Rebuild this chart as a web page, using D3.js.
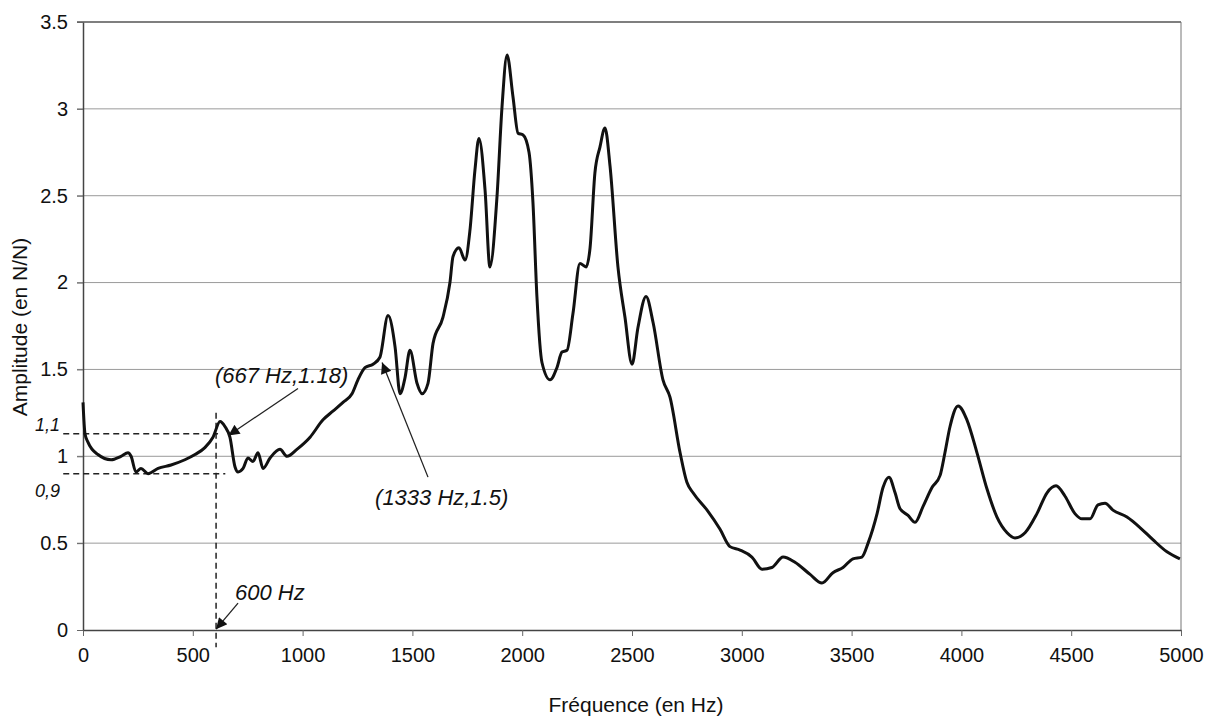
<!DOCTYPE html>
<html>
<head>
<meta charset="utf-8">
<script src="https://cdn.jsdelivr.net/npm/d3@7"></script>
<style>
    body { margin: 0; background: #fff; }
    text { font-family: "Liberation Sans", Arial, sans-serif; fill: #111; }
    .note { font-style: italic; }
</style>
</head>
<body>
<svg width="1219" height="718"></svg>
<script>
// Frequency (Hz) and amplitude (N/N)
var freqs = [0, 9, 23, 68, 128, 173, 205, 219, 241, 264, 296, 342, 401, 464, 510, 555, 592, 624, 647, 669,
    692, 706, 729, 751, 774, 797, 820, 852, 897, 929, 974, 1034, 1093, 1138, 1184, 1225, 1252, 1284, 1321, 1352,
    1389, 1421, 1444, 1466, 1489, 1521, 1544, 1571, 1594, 1639, 1671, 1685, 1712, 1740, 1762, 1785, 1803, 1831, 1853, 1885,
    1908, 1931, 1958, 1981, 2004, 2031, 2049, 2067, 2090, 2127, 2158, 2181, 2204, 2231, 2263, 2291, 2309, 2331, 2354, 2377,
    2400, 2436, 2468, 2500, 2527, 2564, 2596, 2641, 2673, 2719, 2750, 2778, 2842, 2901, 2946, 2992, 3046, 3092, 3137, 3188,
    3242, 3311, 3365, 3415, 3461, 3506, 3547, 3575, 3616, 3643, 3670, 3698, 3720, 3757, 3789, 3825, 3866, 3903, 3925, 3948,
    3985, 4025, 4071, 4117, 4162, 4208, 4244, 4290, 4344, 4390, 4431, 4472, 4517, 4549, 4586, 4622, 4654, 4690, 4754, 4813,
    4872, 4936, 4995];
var amps = [1.31, 1.13, 1.08, 1.01, 0.98, 1.00, 1.02, 1.00, 0.91, 0.93, 0.90, 0.93, 0.95, 0.98, 1.01, 1.05, 1.11, 1.20, 1.17, 1.11,
    0.94, 0.91, 0.93, 0.99, 0.97, 1.02, 0.93, 0.99, 1.04, 1.00, 1.04, 1.11, 1.21, 1.26, 1.31, 1.36, 1.44, 1.51, 1.53, 1.57,
    1.81, 1.63, 1.36, 1.45, 1.61, 1.42, 1.36, 1.42, 1.65, 1.80, 2.00, 2.15, 2.20, 2.13, 2.30, 2.65, 2.83, 2.53, 2.09, 2.49,
    3.01, 3.31, 3.07, 2.86, 2.85, 2.75, 2.46, 1.92, 1.54, 1.44, 1.51, 1.60, 1.61, 1.82, 2.11, 2.09, 2.20, 2.63, 2.78, 2.89,
    2.67, 2.09, 1.80, 1.53, 1.74, 1.92, 1.77, 1.44, 1.34, 1.02, 0.85, 0.79, 0.69, 0.58, 0.48, 0.46, 0.42, 0.35, 0.36, 0.42,
    0.39, 0.32, 0.27, 0.33, 0.36, 0.41, 0.42, 0.50, 0.67, 0.82, 0.88, 0.79, 0.70, 0.66, 0.62, 0.71, 0.82, 0.89, 1.02, 1.17,
    1.29, 1.21, 1.02, 0.81, 0.65, 0.56, 0.53, 0.56, 0.67, 0.79, 0.83, 0.77, 0.67, 0.64, 0.64, 0.72, 0.73, 0.69, 0.65, 0.59,
    0.52, 0.45, 0.41];

var xTicks = [0, 500, 1000, 1500, 2000, 2500, 3000, 3500, 4000, 4500, 5000];
var yTicks = [0, 0.5, 1, 1.5, 2, 2.5, 3, 3.5];

// dashed guide lines: [f1, a1, f2, a2]
var guides = [
    [-90, 1.13, 615, 1.13],
    [-90, 0.9, 648, 0.9],
    [606, 1.25, 606, -0.1]
];
// arrows: [tailF, tailA, tipF, tipA]
var arrows = [
    [979, 1.39, 662, 1.12],
    [1571, 0.88, 1362, 1.54],
    [706, 0.155, 606, 0.005]
];
// notes: [text, f, a, anchor, size]
var notes = [
    ["(667 Hz,1.18)", 601, 1.42, "start", 22],
    ["(1333 Hz,1.5)", 1330, 0.72, "start", 22],
    ["600 Hz", 692, 0.173, "start", 22],
    ["1,1", -105, 1.146, "end", 18],
    ["0,9", -105, 0.766, "end", 18]
];

var svg = d3.select('svg');
var svgWidth = +svg.attr('width');
var svgHeight = +svg.attr('height');

var padding = {t: 22, r: 38, b: 88, l: 83};
var chartWidth = svgWidth - padding.l - padding.r;
var chartHeight = svgHeight - padding.t - padding.b;

var chartG = svg.append('g')
    .attr('transform', 'translate(' + [padding.l, padding.t] + ')');

var xScale = d3.scaleLinear().domain([0, 5000]).range([0, chartWidth]);
var yScale = d3.scaleLinear().domain([0, 3.5]).range([chartHeight, 0]);

// horizontal gridlines
chartG.selectAll('.grid')
    .data(yTicks.slice(1, -1))
    .enter().append('line')
    .attr('class', 'grid')
    .attr('x1', -6).attr('x2', chartWidth)
    .attr('y1', function(d) { return yScale(d); })
    .attr('y2', function(d) { return yScale(d); })
    .attr('stroke', '#9a9a9a').attr('stroke-width', 1);

// frame top and right
chartG.append('line')
    .attr('x1', -6).attr('x2', chartWidth)
    .attr('y1', yScale(3.5)).attr('y2', yScale(3.5))
    .attr('stroke', '#555').attr('stroke-width', 1.5);
chartG.append('line')
    .attr('x1', chartWidth).attr('x2', chartWidth)
    .attr('y1', 0).attr('y2', chartHeight)
    .attr('stroke', '#777').attr('stroke-width', 1);

// axes, plain number labels
var plain = function(d) { return String(d); };
var xAxisG = chartG.append('g')
    .attr('class', 'x axis')
    .attr('transform', 'translate(' + [0, chartHeight] + ')')
    .call(d3.axisBottom(xScale).tickValues(xTicks).tickFormat(plain)
        .tickSize(6).tickPadding(12).tickSizeOuter(0));
var yAxisG = chartG.append('g')
    .attr('class', 'y axis')
    .call(d3.axisLeft(yScale).tickValues(yTicks).tickFormat(plain)
        .tickSize(6).tickPadding(9).tickSizeOuter(0));

svg.selectAll('.axis path').attr('stroke', '#444').attr('stroke-width', 1.5);
svg.selectAll('.axis line').attr('stroke', '#666');
svg.selectAll('.axis text')
    .attr('fill', '#111')
    .style('font-size', '20px')
    .style('font-family', '"Liberation Sans", Arial, sans-serif');

// axis titles
svg.append('text')
    .attr('x', 636)
    .attr('y', 712)
    .attr('text-anchor', 'middle')
    .style('font-size', '21px')
    .text('Fréquence (en Hz)');
svg.append('text')
    .attr('transform', 'translate(' + [27, 327] + ') rotate(-90)')
    .attr('text-anchor', 'middle')
    .style('font-size', '21px')
    .text('Amplitude (en N/N)');

// dashed guides
chartG.selectAll('.guide')
    .data(guides)
    .enter().append('line')
    .attr('class', 'guide')
    .attr('x1', function(d) { return xScale(d[0]); })
    .attr('y1', function(d) { return yScale(d[1]); })
    .attr('x2', function(d) { return xScale(d[2]); })
    .attr('y2', function(d) { return yScale(d[3]); })
    .attr('stroke', '#222').attr('stroke-width', 1.5)
    .attr('stroke-dasharray', '6,4');

// the curve
var points = freqs.map(function(f, i) { return [f, amps[i]]; });
var line = d3.line()
    .x(function(d) { return xScale(d[0]); })
    .y(function(d) { return yScale(d[1]); })
    .curve(d3.curveMonotoneX);

chartG.append('path')
    .datum(points)
    .attr('d', line)
    .attr('fill', 'none')
    .attr('stroke', '#111')
    .attr('stroke-width', 3)
    .attr('stroke-linejoin', 'round');

// arrows
svg.append('defs').append('marker')
    .attr('id', 'head')
    .attr('viewBox', '0 0 10 10')
    .attr('refX', 10).attr('refY', 5)
    .attr('markerWidth', 16).attr('markerHeight', 11)
    .attr('markerUnits', 'userSpaceOnUse')
    .attr('orient', 'auto')
    .append('path')
    .attr('d', 'M0,0 L10,5 L0,10 Z')
    .attr('fill', '#111');

chartG.selectAll('.arrow')
    .data(arrows)
    .enter().append('line')
    .attr('class', 'arrow')
    .attr('x1', function(d) { return xScale(d[0]); })
    .attr('y1', function(d) { return yScale(d[1]); })
    .attr('x2', function(d) { return xScale(d[2]); })
    .attr('y2', function(d) { return yScale(d[3]); })
    .attr('stroke', '#222').attr('stroke-width', 1.3)
    .attr('marker-end', 'url(#head)');

// annotation texts
chartG.selectAll('.note')
    .data(notes)
    .enter().append('text')
    .attr('class', 'note')
    .attr('x', function(d) { return xScale(d[1]); })
    .attr('y', function(d) { return yScale(d[2]); })
    .attr('text-anchor', function(d) { return d[3]; })
    .style('font-size', function(d) { return d[4] + 'px'; })
    .text(function(d) { return d[0]; });
</script>
</body>
</html>
